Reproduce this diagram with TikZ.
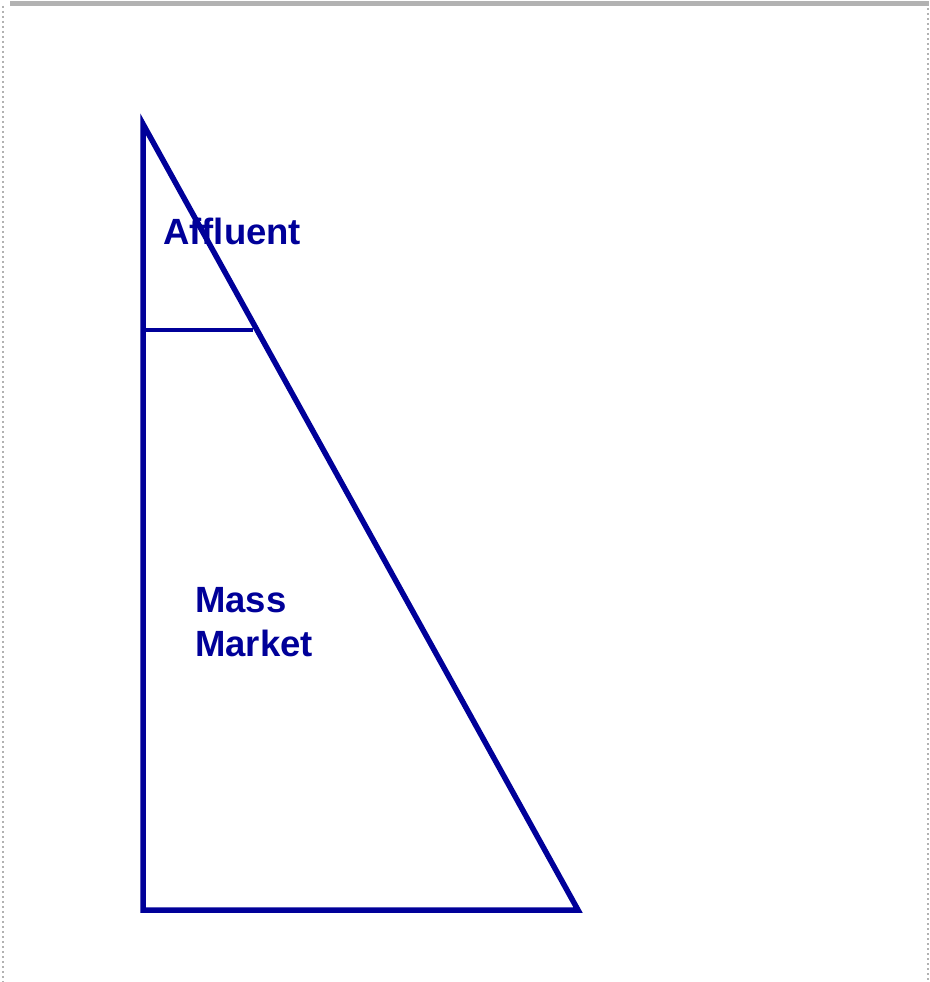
\documentclass[tikz,border=0pt]{standalone}
\usepackage{fontspec}
\setmainfont{Liberation Sans}
\definecolor{navy}{RGB}{0,0,153}
\definecolor{framegray}{RGB}{178,178,178}
\begin{document}
\begin{tikzpicture}[x=1pt,y=-1pt,
  edge/.style={draw=navy,line width=5.5pt,line join=miter},
  lbl/.style={text=navy,font=\fontsize{36.5}{44}\selectfont\bfseries,inner sep=0pt,align=left},
  frame/.style={framegray}]
\useasboundingbox (0,0) rectangle (929,982);
\fill[white] (0,0) rectangle (929,982);
% frame
\fill[frame] (10,1) rectangle (929,6);
\draw[frame,line width=2pt,dash pattern=on 2pt off 3pt] (3,6) -- (3,982);
\draw[frame,line width=2pt,dash pattern=on 2pt off 3pt] (928,8) -- (928,982);
% triangle
\coordinate (apex) at (143,124);
\coordinate (bl) at (143,910);
\coordinate (br) at (578,910);
\coordinate (sl) at (143,330);
\coordinate (sr) at (253,330);
\draw[edge] (apex) -- (bl) -- (br) -- cycle;
\draw[edge,line width=4.5pt] (sl) -- (sr);
% labels
\node[lbl,anchor=base west] (affluent) at (163,244) {Affluent};
\node[lbl,anchor=base west] (mass) at (195,656) {Mass\\Market};
\end{tikzpicture}
\end{document}
